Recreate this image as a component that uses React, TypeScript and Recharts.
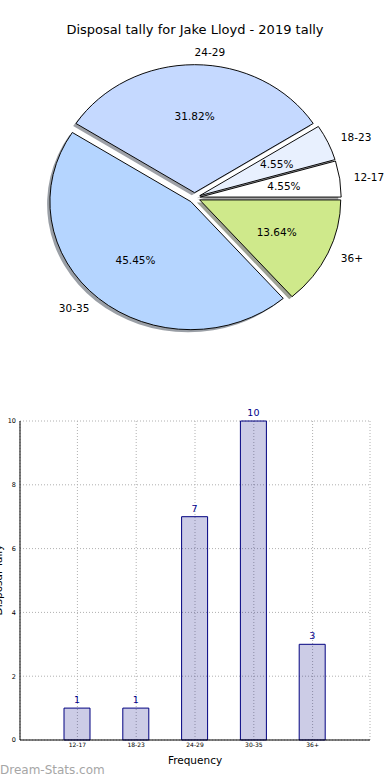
import { PieChart, Pie, Cell, BarChart, Bar, XAxis, YAxis, CartesianGrid, LabelList } from "recharts";

const ranges = ["12-17", "18-23", "24-29", "30-35", "36+"];
const tallies = [1, 1, 7, 10, 3];
const pieColors = ["#ffffff", "#e8f0fe", "#c5d9ff", "#b5d5ff", "#cfe98b"];
const shadowColors = ["#4d4d4d", "#464850", "#3b4150", "#363f4d", "#3e462a"];
const yTicks = [0, 2, 4, 6, 8, 10];

const data = ranges.map((range, i) => ({ range, tally: tallies[i] }));
const total = tallies.reduce((a, b) => a + b, 0);

// pie geometry (matplotlib draws an ellipse, so the circle is squashed afterwards)
const CX = 194.6;
const CY = 197.8;
const R = 141;
const K = 128 / 141;
const EXPLODE = 0.04;
const SHADOW = 0.02;

const midAngles = tallies.map((v, i) => {
  const before = tallies.slice(0, i).reduce((a, b) => a + b, 0);
  return ((before + v / 2) / total) * 360;
});

function sliceCenter(i: number) {
  const a = (midAngles[i] * Math.PI) / 180;
  return { x: CX + EXPLODE * R * Math.cos(a), y: CY - EXPLODE * R * Math.sin(a) };
}

const makeLabel = (i: number) => (p: any) => {
  if (p.index !== i) return null;
  const a = (p.midAngle * Math.PI) / 180;
  const cos = Math.cos(a);
  const sin = Math.sin(a);
  const nx = p.cx + 1.1 * R * cos;
  const ny = p.cy - 1.1 * R * sin;
  const px = p.cx + 0.6 * R * cos;
  const py = p.cy - 0.6 * R * sin;
  return (
    <g key={`lbl-${i}`}>
      <g transform={`translate(${nx},${ny}) scale(1,${1 / K})`}>
        <text x={0} y={0} textAnchor={cos > -1e-6 ? "start" : "end"} dominantBaseline="central" fontSize={10.5} fill="#000">
          {ranges[i]}
        </text>
      </g>
      <g transform={`translate(${px},${py}) scale(1,${1 / K})`}>
        <text x={0} y={0} textAnchor="middle" dominantBaseline="central" fontSize={10.5} fill="#000">
          {(p.percent * 100).toFixed(2)}%
        </text>
      </g>
    </g>
  );
};

export default function App() {
  return (
    <div style={{ position: "absolute", top: 0, left: 0, width: 390, height: 780, background: "#fff", fontFamily: "DejaVu Sans", overflow: "hidden" }}>
      <div style={{ position: "absolute", top: 22, left: 0, width: 390, textAlign: "center", fontSize: 13, lineHeight: "16px" }}>
        Disposal tally for Jake Lloyd - 2019 tally
      </div>

      <div style={{ position: "absolute", top: 0, left: 0, width: 390, height: 360, transform: `scaleY(${K})`, transformOrigin: `0px ${CY}px` }}>
        <PieChart width={390} height={360} margin={{ top: 0, right: 0, bottom: 0, left: 0 }}>
          {ranges.map((_, i) => {
            const c = sliceCenter(i);
            return (
              <Pie
                key={`sh-${i}`}
                data={data}
                dataKey="tally"
                nameKey="range"
                cx={c.x - SHADOW * R}
                cy={c.y + SHADOW * R}
                outerRadius={R}
                startAngle={0}
                endAngle={360}
                labelLine={false}
                isAnimationActive={false}
              >
                {data.map((_, j) => (
                  <Cell key={j} fill={j === i ? shadowColors[i] : "none"} fillOpacity={0.5} stroke="none" />
                ))}
              </Pie>
            );
          })}
          {ranges.map((_, i) => {
            const c = sliceCenter(i);
            return (
              <Pie
                key={`pie-${i}`}
                data={data}
                dataKey="tally"
                nameKey="range"
                cx={c.x}
                cy={c.y}
                outerRadius={R}
                startAngle={0}
                endAngle={360}
                label={makeLabel(i)}
                labelLine={false}
                isAnimationActive={false}
              >
                {data.map((_, j) => (
                  <Cell key={j} fill={j === i ? pieColors[i] : "none"} stroke={j === i ? "#000" : "none"} strokeWidth={1} />
                ))}
              </Pie>
            );
          })}
        </PieChart>
      </div>

      <div style={{ position: "absolute", top: 400, left: 0 }}>
        <BarChart width={390} height={380} data={data} margin={{ top: 21, right: 20, bottom: 20, left: 0 }}>
          <CartesianGrid stroke="#b0b0b0" strokeDasharray="1 2" />
          <XAxis
            dataKey="range"
            padding={{ left: 28, right: 28 }}
            height={20}
            interval={0}
            tickSize={0}
            tickMargin={3}
            tickLine={false}
            tick={{ fontSize: 6, fill: "#000" }}
            axisLine={{ stroke: "#000" }}
          />
          <XAxis
            xAxisId="top"
            orientation="top"
            dataKey="range"
            padding={{ left: 28, right: 28 }}
            height={0}
            tick={false}
            tickLine={false}
            axisLine={{ stroke: "#000" }}
          />
          <YAxis
            domain={[0, 10]}
            ticks={yTicks}
            width={20}
            tickSize={0}
            tickMargin={4}
            tickLine={false}
            tick={{ fontSize: 6.5, fill: "#000" }}
            axisLine={{ stroke: "#000" }}
          />
          <YAxis yAxisId="right" orientation="right" width={0} domain={[0, 10]} tick={false} tickLine={false} axisLine={{ stroke: "#000" }} />
          <Bar dataKey="tally" barSize={26} fill="#000080" fillOpacity={0.2} stroke="#000080" strokeWidth={1} isAnimationActive={false}>
            <LabelList dataKey="tally" position="top" fill="#00008b" fontSize={9.5} />
          </Bar>
        </BarChart>
      </div>

      <div style={{ position: "absolute", top: 754, left: 0, width: 390, textAlign: "center", fontSize: 10.5, lineHeight: "12px" }}>
        Frequency
      </div>
      <div
        style={{
          position: "absolute",
          top: 580,
          left: -1.6,
          fontSize: 10.5,
          lineHeight: "10.5px",
          whiteSpace: "nowrap",
          transform: "translate(-50%, -50%) rotate(-90deg)",
        }}
      >
        Disposal Tally
      </div>
      <div style={{ position: "absolute", top: 762, left: 0, fontSize: 12, lineHeight: "16px", color: "#a6a6a6" }}>
        Dream-Stats.com
      </div>
    </div>
  );
}
